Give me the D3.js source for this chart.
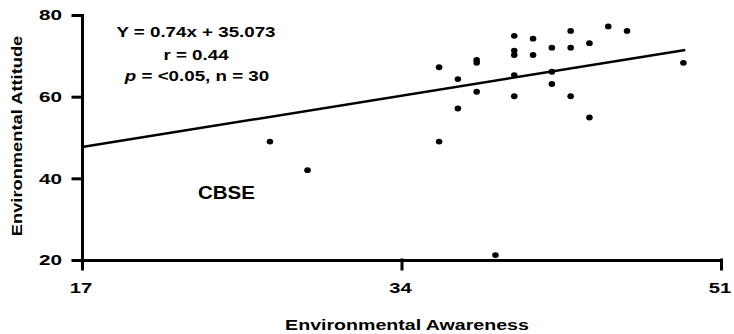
<!DOCTYPE html>
<html lang="en">
<head>
    <meta charset="UTF-8">
    <title>Environmental Awareness vs Attitude</title>
    <script src="https://d3js.org/d3.v7.min.js"></script>
    <style>
        body { margin: 0; background: #ffffff; }
        text { font-family: "Liberation Sans", Arial, sans-serif; font-weight: bold; fill: #000; }
    </style>
</head>
<body>
    <div id="chart"></div>
    <script>
        // values
        const awareness = [27, 29, 36, 36, 37, 37, 38, 38, 38, 39, 40, 40, 40, 40, 40, 41, 41, 42, 42, 42, 43, 43, 43, 44, 44, 45, 46, 49];
        const attitude  = [49, 42, 67.2, 49, 64.3, 57.1, 69, 68.3, 61.2, 21.2, 74.9, 71.3, 70.2, 65.3, 60.1, 74.2, 70.2, 72, 66.1, 63.1, 76.1, 72, 60.1, 73.1, 54.9, 77.2, 76.1, 68.3];
        const xTicks = [17, 34, 51];
        const yTicks = [20, 40, 60, 80];
        const fitLine = { slope: 0.74, intercept: 35.073, from: 17, to: 49.1 };
        const statText = ["Y = 0.74x + 35.073", "r = 0.44"];
        const pText = " = <0.05, n = 30";

        const width = 734, height = 334;
        const margin = { top: 15, right: 13, bottom: 74, left: 82 };

        const svg = d3.select("#chart")
            .append("svg")
            .attr("width", width)
            .attr("height", height);

        const x = d3.scaleLinear().domain([17, 51]).range([margin.left, width - margin.right]);
        const y = d3.scaleLinear().domain([20, 80]).range([height - margin.bottom, margin.top]);

        // text glyphs in the original are stretched along the reading direction
        function place(sel, px, py, sx, rot) {
            sel.attr("transform", `translate(${px},${py})` + (rot ? ` rotate(${rot})` : "") + ` scale(${sx},1)`);
        }

        // axes
        const xAxis = svg.append("g")
            .attr("transform", `translate(0,${y(20)})`)
            .call(d3.axisBottom(x).tickValues(xTicks).tickSize(9).tickSizeOuter(0).tickFormat(""));
        const yAxis = svg.append("g")
            .attr("transform", `translate(${x(17)},0)`)
            .call(d3.axisLeft(y).tickValues(yTicks).tickSize(9).tickSizeOuter(0).tickFormat(""));

        [xAxis, yAxis].forEach(a => {
            a.selectAll("path, line")
                .attr("stroke", "#000")
                .attr("stroke-width", 3)
                .attr("stroke-linecap", "square");
        });

        svg.selectAll(".xlab")
            .data(xTicks)
            .join("text")
            .attr("class", "xlab")
            .attr("text-anchor", "middle")
            .attr("font-size", 15)
            .text(d => d)
            .each(function (d) { place(d3.select(this), x(d) - 1, 293, 1.35); });

        svg.selectAll(".ylab")
            .data(yTicks)
            .join("text")
            .attr("class", "ylab")
            .attr("text-anchor", "end")
            .attr("font-size", 15)
            .attr("dy", "0.36em")
            .text(d => d)
            .each(function (d) { place(d3.select(this), 62, y(d), 1.38); });

        // axis titles
        svg.append("text")
            .attr("text-anchor", "middle")
            .attr("font-size", 14)
            .text("Environmental Awareness")
            .call(place, 407, 330, 1.4);

        svg.append("text")
            .attr("text-anchor", "middle")
            .attr("font-size", 15)
            .text("Environmental Attitude")
            .call(place, 22, 136, 1.22, -90);

        // regression line
        svg.append("line")
            .attr("x1", x(fitLine.from))
            .attr("y1", y(fitLine.slope * fitLine.from + fitLine.intercept))
            .attr("x2", x(fitLine.to))
            .attr("y2", y(fitLine.slope * fitLine.to + fitLine.intercept))
            .attr("stroke", "#000")
            .attr("stroke-width", 2.5);

        // points
        svg.selectAll("ellipse")
            .data(awareness.map((a, i) => [a, attitude[i]]))
            .join("ellipse")
            .attr("cx", d => x(d[0]))
            .attr("cy", d => y(d[1]))
            .attr("rx", 3.3)
            .attr("ry", 2.9)
            .attr("fill", "#000");

        // stats block
        svg.selectAll(".stat")
            .data(statText)
            .join("text")
            .attr("class", "stat")
            .attr("text-anchor", "middle")
            .attr("font-size", 15)
            .text(d => d)
            .each(function (d, i) { place(d3.select(this), 196, 37 + i * 23, 1.25); });

        const pLine = svg.append("text")
            .attr("text-anchor", "middle")
            .attr("font-size", 15)
            .call(place, 197, 81, 1.25);
        pLine.append("tspan").attr("font-style", "italic").text("p");
        pLine.append("tspan").text(pText);

        svg.append("text")
            .attr("font-size", 19)
            .text("CBSE")
            .call(place, 198, 199, 1.08);
    </script>
</body>
</html>
